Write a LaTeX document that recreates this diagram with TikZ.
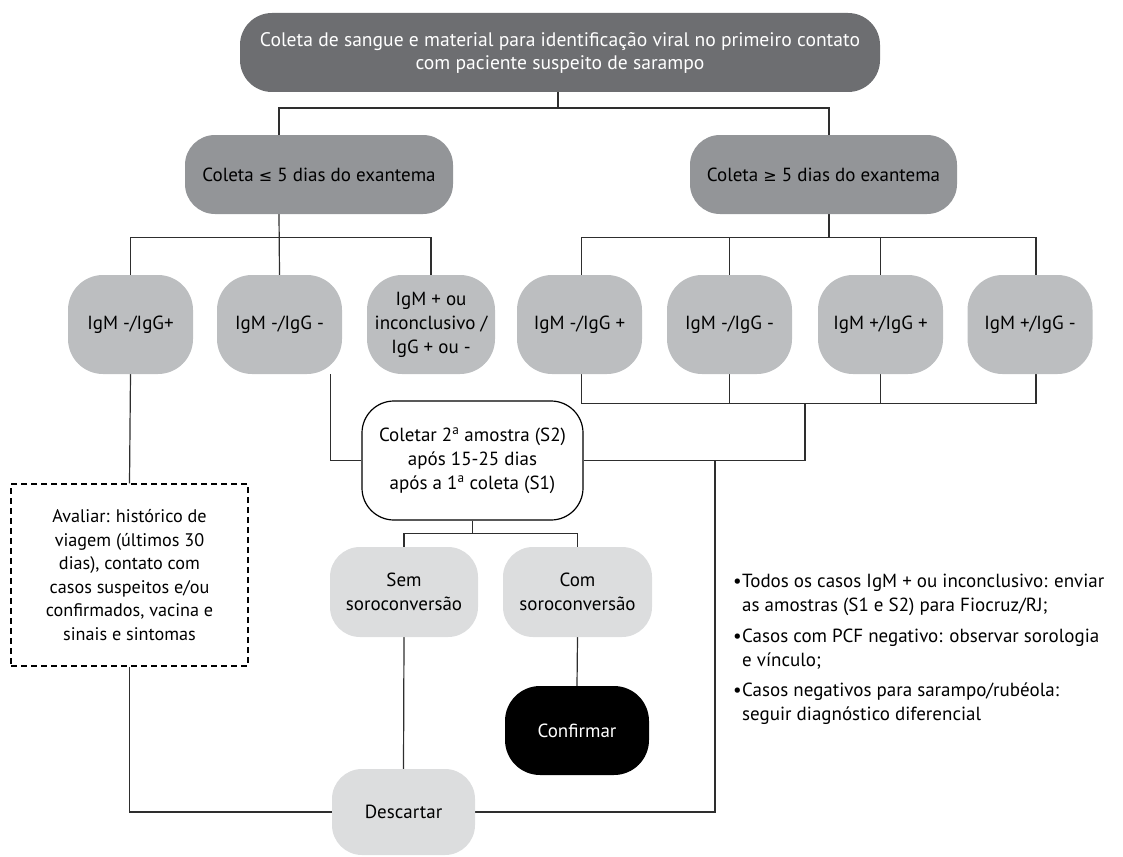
\documentclass[tikz,border=0pt]{standalone}
\usepackage{fontspec}
\setmainfont{PT Sans}
\newfontfamily\symf{DejaVu Sans}
\usetikzlibrary{calc,backgrounds}
\definecolor{cdark}{HTML}{6D6E71}
\definecolor{cmid}{HTML}{939598}
\definecolor{cigm}{HTML}{BCBEC0}
\definecolor{clight}{HTML}{DCDDDE}
\definecolor{cline}{HTML}{2E2E2E}
\newcommand\fs{\fontsize{19}{24}\selectfont}
\newcommand\bul{\makebox[9pt][l]{•}}
\newcommand\ind{\hspace*{9pt}}
\tikzset{
  boxbase/.style={inner sep=0pt, align=center, font=\fs},
  topbox/.style={boxbase, fill=cdark, text=white, rounded corners=32pt, font=\fontsize{19.6}{23}\selectfont},
  colbox/.style={boxbase, fill=cmid, rounded corners=30pt},
  igmbox/.style={boxbase, fill=cigm, rounded corners=35pt, minimum width=125pt, minimum height=99pt},
  lightbox/.style={boxbase, fill=clight, rounded corners=30pt},
  confbox/.style={boxbase, fill=black, text=white, rounded corners=35pt},
  whitebox/.style={boxbase, draw=black, line width=1.2pt, fill=white, rounded corners=32pt},
  dashbox/.style={boxbase, draw=black, line width=1.1pt, dash pattern=on 6pt off 4pt, font=\fontsize{18.2}{23.6}\selectfont},
  notes/.style={inner sep=0pt, align=left, font=\fs},
  conn/.style={draw=cline, line width=1.2pt},
}
\begin{document}
\begin{tikzpicture}[x=1pt,y=-1pt]
\useasboundingbox (0,0) rectangle (1123,856);
% nodes
\node[topbox, minimum width=640pt, minimum height=79pt] (top) at (560,52.5)
  {Coleta de sangue e material para identificação viral no primeiro contato\\com paciente suspeito de sarampo};
\node[colbox, minimum width=268pt, minimum height=79pt] (cl) at (319,174.5)
  {Coleta {\symf\fontsize{16}{20}\selectfont ≤} 5 dias do exantema};
\node[colbox, minimum width=267pt, minimum height=79pt] (cr) at (823.5,174.5)
  {Coleta {\symf\fontsize{16}{20}\selectfont ≥} 5 dias do exantema};
\node[igmbox] (l1) at (130.5,324.5) {IgM -/IgG+};
\node[igmbox] (l2) at (279.5,324.5) {IgM -/IgG -};
\node[igmbox, minimum width=128pt] (l3) at (431,324.5) {IgM + ou\\inconclusivo /\\IgG + ou -};
\node[igmbox] (r1) at (579.5,324.5) {IgM -/IgG +};
\node[igmbox] (r2) at (729.5,324.5) {IgM -/IgG -};
\node[igmbox] (r3) at (880.5,324.5) {IgM +/IgG +};
\node[igmbox] (r4) at (1030,324.5) {IgM +/IgG -};
\node[whitebox, minimum width=221pt, minimum height=119pt] (colet) at (472.5,460.5)
  {Coletar 2\textsuperscript{a} amostra (S2)\\após 15-25 dias\\após a 1\textsuperscript{a} coleta (S1)};
\node[dashbox, minimum width=237pt, minimum height=182pt] (dash) at (129.5,575)
  {Avaliar: histórico de\\viagem (últimos 30\\dias), contato com\\casos suspeitos e/ou\\confirmados, vacina e\\sinais e sintomas};
\node[lightbox, minimum width=148pt, minimum height=90pt] (sem) at (404,592) {Sem\\soroconversão};
\node[lightbox, minimum width=149pt, minimum height=90pt] (com) at (577.5,592) {Com\\soroconversão};
\node[confbox, minimum width=144pt, minimum height=89pt] (conf) at (577,730.5) {Confirmar};
\node[lightbox, minimum width=143pt, minimum height=86pt] (desc) at (403.5,812) {Descartar};
\node[notes, anchor=north west] (notes) at (733,574)
  {\bul Todos os casos IgM + ou inconclusivo: enviar\\
   \ind as amostras (S1 e S2) para Fiocruz/RJ;\\[6.5pt]
   \bul Casos com PCF negativo: observar sorologia\\
   \ind e vínculo;\\[6.5pt]
   \bul Casos negativos para sarampo/rubéola:\\
   \ind seguir diagnóstico diferencial};
\coordinate (jtop) at (558,108);
\coordinate (rb) at (805,403);
\coordinate (jr) at (715,460.5);
% connectors
\begin{scope}[on background layer]
\draw[conn] ([xshift=-2pt]top.south) -- (jtop);
\draw[conn] ([xshift=-40pt]cl.north) |- (jtop) -| ([xshift=5.5pt]cr.north);
\draw[conn] ([xshift=-40pt]cl.south) -- (l2.north);
\draw[conn] (l1.north) -- ++(0,-37) -| (l3.north);
\draw[conn] ([xshift=5.5pt]cr.south) -- ++(0,24);
\draw[conn] ([xshift=2pt]r1.north) -- ++(0,-37) -| ([xshift=6pt]r4.north);
\draw[conn] (r2.north) -- ++(0,-37);
\draw[conn] (r3.north) -- ++(0,-37);
\draw[conn] ([xshift=2pt]r1.south) -- ++(0,29) -| ([xshift=6pt]r4.south);
\draw[conn] (r2.south) -- ++(0,29);
\draw[conn] (r3.south) -- ++(0,29);
\draw[conn] (rb) |- (colet.east);
\draw[conn] ([xshift=51pt]l2.south) |- (colet.west);
\draw[conn] (l1.south) -- (dash.north);
\draw[conn] (dash.south) |- (desc.west);
\draw[conn] (jr) |- (desc.east);
\draw[conn] (colet.south) -- ++(0,13) -| (sem.north);
\draw[conn] (colet.south) ++(0,13) -| (com.north);
\draw[conn] (sem.south) -- (desc.north);
\draw[conn] (com.south) -- (conf.north);
\end{scope}
\end{tikzpicture}
\end{document}
